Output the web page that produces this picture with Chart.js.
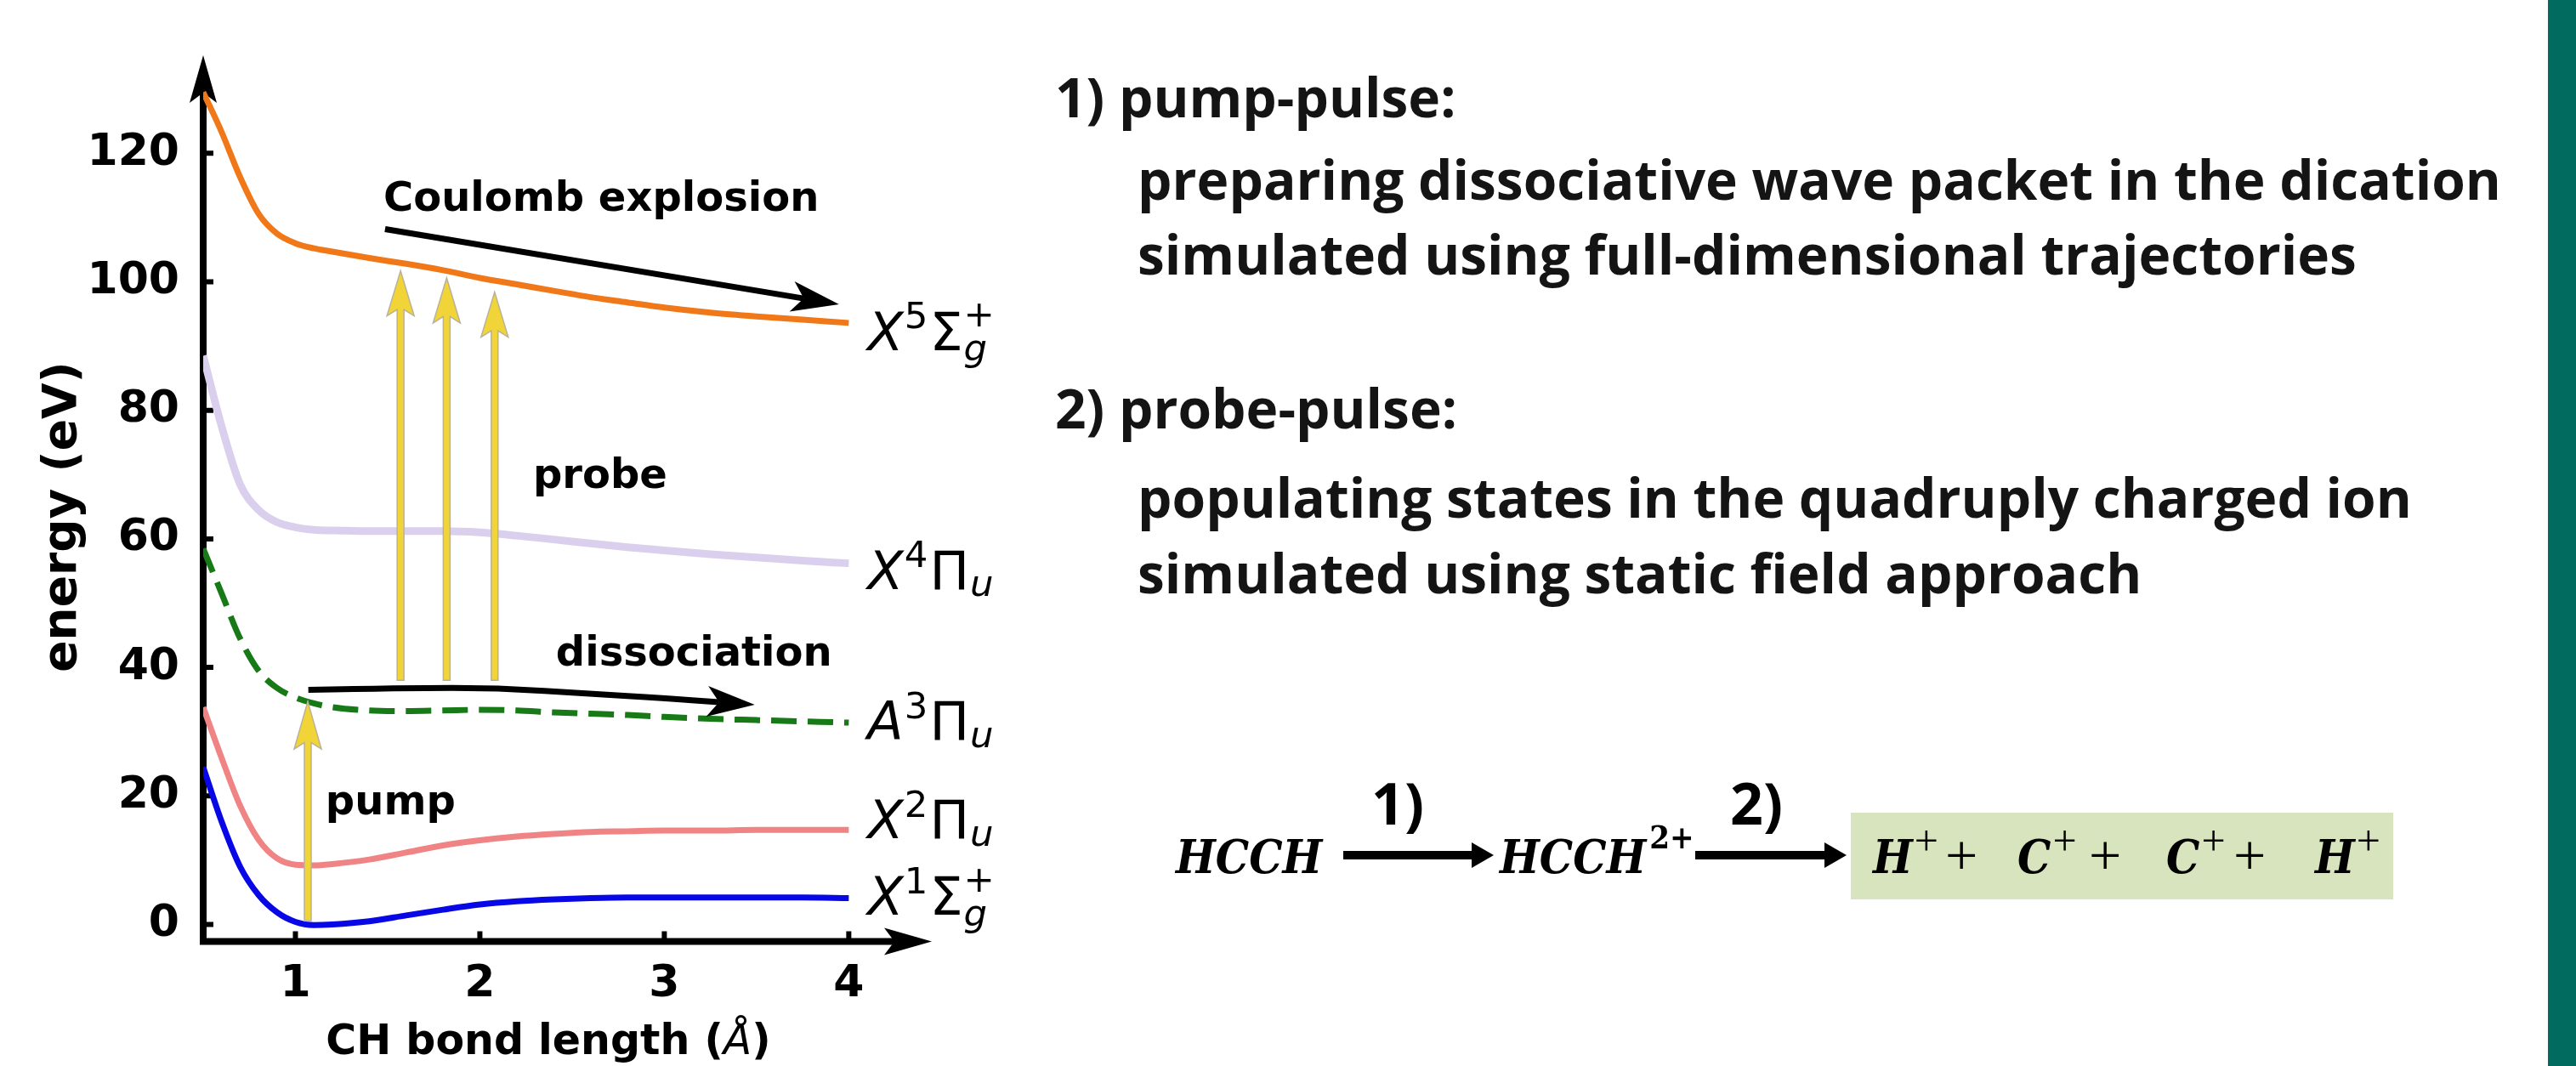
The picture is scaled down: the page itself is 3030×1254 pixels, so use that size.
<!DOCTYPE html>
<html>
<head>
<meta charset="utf-8">
<title>CH bond potential energy curves</title>
<script src="https://cdn.jsdelivr.net/npm/chart.js@4.4.1/dist/chart.umd.min.js"></script>
<style>
  html, body { margin: 0; padding: 0; background: #ffffff; }
  #page { position: relative; width: 3030px; height: 1254px; overflow: hidden; background: #ffffff; }
  #diagram { position: absolute; left: 0; top: 0; }
  #sidebar { position: absolute; left: 2997px; top: 0; width: 33px; height: 1254px; background: #006b5e; }
</style>
</head>
<body>
<div id="page">
  <canvas id="diagram" width="3030" height="1254"></canvas>
  <div id="sidebar"></div>
</div>
<script>
// CH bond length grid (Å)
const bondLength = [0.5, 0.6, 0.7, 0.8, 0.9, 1.0, 1.1, 1.2, 1.4, 1.6, 1.8, 2.0, 2.2, 2.4, 2.6, 2.8, 3.0, 3.25, 3.5, 3.75, 4.0];

// Potential energy curves (eV)
const energyX1Sg = [24.5, 16.0, 9.0, 4.6, 1.9, 0.4, -0.1, 0.0, 0.5, 1.4, 2.3, 3.1, 3.6, 3.9, 4.1, 4.2, 4.2, 4.2, 4.2, 4.2, 4.1];
const energyX2Pu = [33.8, 25.9, 18.5, 13.2, 10.3, 9.3, 9.2, 9.4, 10.1, 11.2, 12.3, 13.1, 13.7, 14.1, 14.4, 14.5, 14.6, 14.6, 14.7, 14.7, 14.7];
const energyA3Pu = [58.5, 51.5, 44.5, 39.5, 36.8, 35.3, 34.4, 33.8, 33.3, 33.2, 33.3, 33.4, 33.3, 33.0, 32.8, 32.6, 32.3, 32.0, 31.8, 31.6, 31.4];
const energyX4Pu = [88.5, 77.5, 68.5, 64.5, 62.6, 61.8, 61.4, 61.3, 61.2, 61.2, 61.2, 61.0, 60.5, 59.9, 59.3, 58.7, 58.2, 57.6, 57.1, 56.6, 56.2];
const energyX5Sg = [129.5, 123.3, 116.3, 110.6, 107.5, 106.0, 105.2, 104.7, 103.7, 102.8, 101.8, 100.6, 99.6, 98.6, 97.6, 96.8, 96.0, 95.2, 94.6, 94.1, 93.6];

// Axis ticks
const xTicks = [1, 2, 3, 4];
const yTicks = [0, 20, 40, 60, 80, 100, 120];

// Transitions (bond length in Å, energy in eV)
const pumpX = 1.067, pumpFrom = 0.6, pumpTo = 34.7;
const probeX = [1.57, 1.82, 2.08];
const probeFrom = 38.0;
const probeTo = [101.7, 100.6, 98.4];
const coulombPath = [[1.486, 108.2], [3.947, 96.5]];
const dissociationPath = [[1.07, 36.5], [1.6, 36.8], [2.1, 36.8], [2.6, 35.9], [3.0, 35.2], [3.49, 34.2]];

// Text annotations placed in data coordinates
const annotations = [
  { text: 'Coulomb explosion', x: 1.477, y: 111.0 },
  { text: 'probe', x: 2.288, y: 67.9 },
  { text: 'dissociation', x: 2.412, y: 40.3 },
  { text: 'pump', x: 1.163, y: 17.1 }
];

// State labels (mathtext-like tokens)
const stateLabels = [
  { series: energyX5Sg, shift: 32, tokens: [{ t: 'X', it: true }, { t: '5', pos: 'sup' }, { t: 'Σ' }, { t: 'g', it: true, pos: 'sub2', stack: true }, { t: '+', pos: 'sup2' }] },
  { series: energyX4Pu, shift: 30, tokens: [{ t: 'X', it: true }, { t: '4', pos: 'sup' }, { t: 'Π' }, { t: 'u', it: true, pos: 'sub' }] },
  { series: energyA3Pu, shift: 20, tokens: [{ t: 'A', it: true }, { t: '3', pos: 'sup' }, { t: 'Π' }, { t: 'u', it: true, pos: 'sub' }] },
  { series: energyX2Pu, shift: 10, tokens: [{ t: 'X', it: true }, { t: '2', pos: 'sup' }, { t: 'Π' }, { t: 'u', it: true, pos: 'sub' }] },
  { series: energyX1Sg, shift: 20, tokens: [{ t: 'X', it: true }, { t: '1', pos: 'sup' }, { t: 'Σ' }, { t: 'g', it: true, pos: 'sub2', stack: true }, { t: '+', pos: 'sup2' }] }
];

// Right-hand explanation
const notes = [
  { text: '1) pump-pulse:', indent: 0, line: 0 },
  { text: 'preparing dissociative wave packet in the dication', indent: 1, line: 1 },
  { text: 'simulated using full-dimensional trajectories', indent: 1, line: 2 },
  { text: '2) probe-pulse:', indent: 0, line: 3 },
  { text: 'populating states in the quadruply charged ion', indent: 1, line: 4 },
  { text: 'simulated using static field approach', indent: 1, line: 5 }
];

// Reaction scheme: fragments of the final Coulomb explosion
const fragments = ['H', 'C', 'C', 'H'];

const SANS = '"DejaVu Sans", sans-serif';
const NOTE_FONT = '700 64px "Open Sans", "Noto Sans", sans-serif';
const STEP_FONT = '700 68px "Open Sans", "Noto Sans", sans-serif';
const SERIF_BI = 'italic 700 55px "DejaVu Serif Condensed", "DejaVu Serif", serif';

function toPoints(ys) { return bondLength.map((x, i) => ({ x: x, y: ys[i] })); }

function stealthHead(ctx, tx, ty, ang, len, hw, notch) {
  const c = Math.cos(ang), s = Math.sin(ang);
  const bx = tx - len * c, by = ty - len * s;
  ctx.beginPath();
  ctx.moveTo(tx, ty);
  ctx.lineTo(bx - hw * s, by + hw * c);
  ctx.lineTo(tx - (len - notch) * c, ty - (len - notch) * s);
  ctx.lineTo(bx + hw * s, by - hw * c);
  ctx.closePath();
  ctx.fill();
}

// Filled block arrow (shaft + concave head) from (x0,y0) to tip (x1,y1)
function blockArrow(ctx, x0, y0, x1, y1, sw, len, hw, notch, fill, edge) {
  const ang = Math.atan2(y1 - y0, x1 - x0);
  const c = Math.cos(ang), s = Math.sin(ang);
  const L = Math.hypot(x1 - x0, y1 - y0);
  const local = [
    [0, -sw], [L - len + notch * (1 - sw / hw), -sw], [L - len, -hw], [L, 0],
    [L - len, hw], [L - len + notch * (1 - sw / hw), sw], [0, sw]
  ];
  ctx.beginPath();
  local.forEach(([u, v], i) => {
    const px = x0 + u * c - v * s, py = y0 + u * s + v * c;
    if (i === 0) ctx.moveTo(px, py); else ctx.lineTo(px, py);
  });
  ctx.closePath();
  ctx.fillStyle = fill;
  ctx.fill();
  ctx.lineWidth = 1.5;
  ctx.strokeStyle = edge;
  ctx.stroke();
}

function drawMath(ctx, x, y, tokens, size) {
  let cx = x;
  tokens.forEach(tok => {
    const pos = tok.pos || 'base';
    const s = pos === 'base' ? size : size * 0.7;
    let dy = 0;
    if (pos === 'sup') dy = -0.41 * size;
    if (pos === 'sup2') dy = -0.45 * size;
    if (pos === 'sub') dy = 0.14 * size;
    if (pos === 'sub2') dy = 0.2 * size;
    ctx.font = (tok.it ? 'italic ' : '') + s + 'px ' + SANS;
    ctx.fillText(tok.t, cx, y + dy);
    if (!tok.stack) cx += ctx.measureText(tok.t).width + (pos === 'base' ? 1 : 2);
  });
}

const diagramPlugin = {
  id: 'potentialDiagram',
  beforeDatasetsDraw(chart) {
    const ctx = chart.ctx;
    const xs = chart.scales.x, ys = chart.scales.y;
    const area = chart.chartArea;
    ctx.save();
    ctx.strokeStyle = '#000';
    ctx.fillStyle = '#000';
    ctx.lineCap = 'butt';
    // axis lines with arrow heads
    ctx.lineWidth = 8;
    ctx.beginPath();
    ctx.moveTo(area.left, area.bottom + 4);
    ctx.lineTo(area.left, area.top + 40);
    ctx.moveTo(area.left - 4, area.bottom);
    ctx.lineTo(area.right - 40, area.bottom);
    ctx.stroke();
    stealthHead(ctx, area.left, area.top, -Math.PI / 2, 56, 16, 12);
    stealthHead(ctx, area.right, area.bottom, 0, 56, 16, 12);
    // inward tick marks
    ctx.lineWidth = 6;
    ctx.beginPath();
    yTicks.forEach(v => {
      const py = ys.getPixelForValue(v);
      ctx.moveTo(area.left, py);
      ctx.lineTo(area.left + 12, py);
    });
    xTicks.forEach(v => {
      const px = xs.getPixelForValue(v);
      ctx.moveTo(px, area.bottom);
      ctx.lineTo(px, area.bottom - 12);
    });
    ctx.stroke();
    // axis titles
    ctx.textBaseline = 'alphabetic';
    ctx.font = 'bold 55px ' + SANS;
    ctx.save();
    ctx.translate(89, 608);
    ctx.rotate(-Math.PI / 2);
    ctx.textAlign = 'center';
    ctx.fillText('energy (eV)', 0, 0);
    ctx.restore();
    const p1 = 'CH bond length (', p2 = 'Å', p3 = ')';
    ctx.font = 'bold 49px ' + SANS;
    const w1 = ctx.measureText(p1).width, w3 = ctx.measureText(p3).width;
    ctx.font = 'italic 49px ' + SANS;
    const w2 = ctx.measureText(p2).width;
    const tx = 645 - (w1 + w2 + w3) / 2;
    ctx.textAlign = 'left';
    ctx.font = 'bold 49px ' + SANS;
    ctx.fillText(p1, tx, 1240);
    ctx.font = 'italic 49px ' + SANS;
    ctx.fillText(p2, tx + w1, 1240);
    ctx.font = 'bold 49px ' + SANS;
    ctx.fillText(p3, tx + w1 + w2, 1240);
    ctx.restore();
  },
  afterDatasetsDraw(chart) {
    const ctx = chart.ctx;
    const X = v => chart.scales.x.getPixelForValue(v);
    const Y = v => chart.scales.y.getPixelForValue(v);
    ctx.save();
    // probe and pump arrows
    const gold = '#f1d438', goldEdge = '#b9b29a';
    probeX.forEach((bx, i) => {
      blockArrow(ctx, X(bx), Y(probeFrom), X(bx), Y(probeTo[i]), 4, 53, 16, 10, gold, goldEdge);
    });
    blockArrow(ctx, X(pumpX), Y(pumpFrom), X(pumpX), Y(pumpTo), 4, 56, 16, 10, gold, goldEdge);
    // Coulomb explosion arrow
    ctx.strokeStyle = '#000';
    ctx.fillStyle = '#000';
    ctx.lineWidth = 7;
    ctx.lineCap = 'butt';
    {
      const [a, b] = coulombPath;
      const x0 = X(a[0]), y0 = Y(a[1]), x1 = X(b[0]), y1 = Y(b[1]);
      const ang = Math.atan2(y1 - y0, x1 - x0);
      ctx.beginPath();
      ctx.moveTo(x0, y0);
      ctx.lineTo(x1 - 42 * Math.cos(ang), y1 - 42 * Math.sin(ang));
      ctx.stroke();
      stealthHead(ctx, x1, y1, ang, 56, 18, 14);
    }
    // dissociation arrow (smooth path)
    {
      const pts = dissociationPath.map(p => [X(p[0]), Y(p[1])]);
      const n = pts.length;
      const last = pts[n - 1], prev = pts[n - 2];
      const ang = Math.atan2(last[1] - prev[1], last[0] - prev[0]);
      const end = [last[0] - 42 * Math.cos(ang), last[1] - 42 * Math.sin(ang)];
      const path = pts.slice(0, n - 1).concat([end]);
      ctx.beginPath();
      ctx.moveTo(path[0][0], path[0][1]);
      for (let i = 1; i < path.length - 1; i++) {
        const mx = (path[i][0] + path[i + 1][0]) / 2, my = (path[i][1] + path[i + 1][1]) / 2;
        ctx.quadraticCurveTo(path[i][0], path[i][1], mx, my);
      }
      ctx.lineTo(end[0], end[1]);
      ctx.stroke();
      stealthHead(ctx, last[0], last[1], ang, 56, 18, 14);
    }
    // text annotations
    ctx.fillStyle = '#000';
    ctx.textAlign = 'left';
    ctx.textBaseline = 'alphabetic';
    ctx.font = 'bold 48px ' + SANS;
    annotations.forEach(a => ctx.fillText(a.text, X(a.x), Y(a.y)));
    // state labels at the right ends of the curves
    stateLabels.forEach(lbl => {
      const yEnd = Y(lbl.series[lbl.series.length - 1]);
      drawMath(ctx, X(bondLength[bondLength.length - 1]) + 22, yEnd + lbl.shift, lbl.tokens, 62);
    });
    ctx.restore();
  },
  afterDraw(chart) {
    const ctx = chart.ctx;
    ctx.save();
    ctx.fillStyle = '#141414';
    ctx.textAlign = 'left';
    ctx.textBaseline = 'alphabetic';
    ctx.font = NOTE_FONT;
    const baselines = [138, 235, 323, 504, 609, 698];
    notes.forEach(n => ctx.fillText(n.text, n.indent ? 1338 : 1241, baselines[n.line]));

    // reaction scheme
    const serifSup = '700 38px "DejaVu Serif Condensed", "DejaVu Serif", serif';
    const fragSup = '400 50px "Liberation Serif", serif';
    const plusFont = '400 68px "Liberation Serif", serif';
    const baseY = 1027, arrowY = 1006;
    ctx.fillStyle = '#d7e4bd';
    ctx.fillRect(2177, 956, 638, 102);
    ctx.fillStyle = '#000';
    ctx.font = SERIF_BI;
    ctx.fillText('HCCH', 1383, baseY);
    function schemeArrow(x0, x1) {
      ctx.fillRect(x0, arrowY - 5, x1 - x0 - 22, 10);
      ctx.beginPath();
      ctx.moveTo(x1, arrowY);
      ctx.lineTo(x1 - 26, arrowY - 15);
      ctx.lineTo(x1 - 26, arrowY + 15);
      ctx.closePath();
      ctx.fill();
    }
    schemeArrow(1580, 1757);
    ctx.font = STEP_FONT;
    ctx.fillText('1)', 1613, 970);
    ctx.font = SERIF_BI;
    ctx.fillText('HCCH', 1764, baseY);
    const hx = 1764 + ctx.measureText('HCCH').width + 4;
    ctx.font = serifSup;
    ctx.fillText('2+', hx, 998);
    schemeArrow(1994, 2172);
    ctx.font = STEP_FONT;
    ctx.fillText('2)', 2035, 970);
    // products
    const fragX = [2203, 2373, 2548, 2723];
    const plusX = [2288, 2457, 2627];
    fragments.forEach((f, i) => {
      ctx.font = SERIF_BI;
      ctx.fillText(f, fragX[i], baseY);
      const sx = fragX[i] + ctx.measureText(f).width + 2;
      ctx.font = fragSup;
      ctx.fillText('+', sx, 1006);
      if (i < plusX.length) {
        ctx.font = plusFont;
        ctx.fillText('+', plusX[i], baseY + 2);
      }
    });
    ctx.restore();
  }
};

const lineStyle = (color, width, dash) => ({
  borderColor: color,
  borderWidth: width,
  borderDash: dash || [],
  pointRadius: 0,
  fill: false,
  cubicInterpolationMode: 'monotone',
  borderCapStyle: 'butt'
});

new Chart(document.getElementById('diagram'), {
  type: 'line',
  data: {
    datasets: [
      Object.assign({ label: 'X5Sg+', data: toPoints(energyX5Sg) }, lineStyle('#f07818', 7)),
      Object.assign({ label: 'X4Pu', data: toPoints(energyX4Pu) }, lineStyle('#dad0ee', 9)),
      Object.assign({ label: 'A3Pu', data: toPoints(energyA3Pu) }, lineStyle('#177a17', 7, [30, 13])),
      Object.assign({ label: 'X2Pu', data: toPoints(energyX2Pu) }, lineStyle('#f08484', 7)),
      Object.assign({ label: 'X1Sg+', data: toPoints(energyX1Sg) }, lineStyle('#0808e6', 7))
    ]
  },
  options: {
    responsive: false,
    devicePixelRatio: 1,
    animation: false,
    events: [],
    layout: { padding: { left: 0, top: 65, right: 1934, bottom: 0 } },
    plugins: { legend: { display: false }, tooltip: { enabled: false } },
    scales: {
      x: {
        type: 'linear',
        min: 0.5,
        max: 4.45,
        grid: { display: false, drawTicks: false },
        border: { display: false },
        ticks: { color: '#000', padding: 20, font: { family: 'DejaVu Sans', weight: 'bold', size: 52 } },
        afterBuildTicks: s => { s.ticks = xTicks.map(v => ({ value: v })); },
        afterFit: s => { s.height = 146.5; }
      },
      y: {
        type: 'linear',
        min: -2.646,
        max: 135.25,
        grid: { display: false, drawTicks: false },
        border: { display: false },
        ticks: { color: '#000', padding: 28, font: { family: 'DejaVu Sans', weight: 'bold', size: 52 } },
        afterBuildTicks: s => { s.ticks = yTicks.map(v => ({ value: v })); },
        afterFit: s => { s.width = 239; }
      }
    }
  },
  plugins: [diagramPlugin]
});
</script>
</body>
</html>
